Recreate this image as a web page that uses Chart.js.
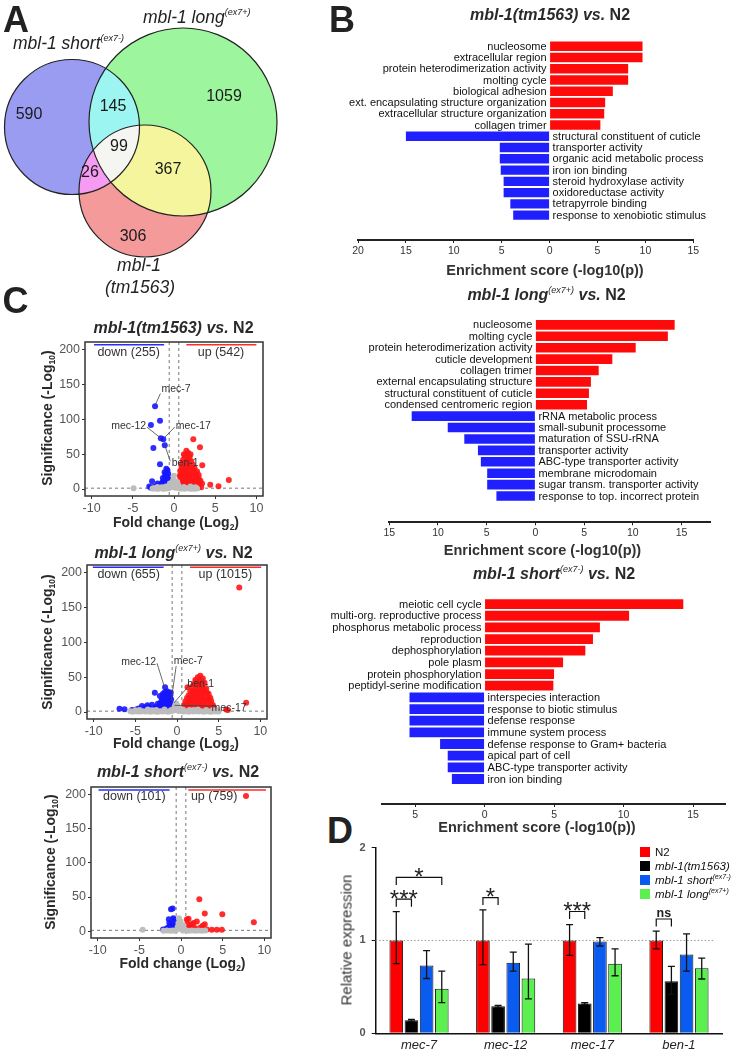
<!DOCTYPE html>
<html><head><meta charset="utf-8">
<script src="https://cdn.jsdelivr.net/npm/chart.js@4.4.0/dist/chart.umd.min.js"></script>
<style>
html,body{margin:0;padding:0;background:#fff;}
body{width:733px;height:1052px;position:relative;overflow:hidden;font-family:Arial,"Liberation Sans",Helvetica,sans-serif;color:#222;}
canvas.c{position:absolute;}
.t{position:absolute;white-space:nowrap;line-height:1;transform:translate(-50%,-50%);}
.tl{position:absolute;white-space:nowrap;line-height:1;transform:translate(0,-50%);}
.letter{font-weight:bold;font-size:36px;color:#222;}
.ttl{font-weight:bold;font-size:16px;color:#2a2a2a;}
.sp{font-size:9px;font-style:italic;font-weight:normal;position:relative;top:-7px;}
.axt{font-weight:bold;font-size:14.5px;color:#333;}
.vaxt{font-weight:bold;font-size:14px;color:#2a2a2a;}
.rot{transform:translate(-50%,-50%) rotate(-90deg);}
.sb{font-size:8.5px;position:relative;top:3px;}
.vn{font-style:italic;font-size:17.5px;color:#222;}
.vn .sp{font-size:9px;top:-8px;}
.lg{position:absolute;left:640px;font-size:11.5px;color:#111;white-space:nowrap;line-height:1;}
.lg span.sq{display:inline-block;width:10px;height:10px;vertical-align:-1px;margin-right:5px;}
.lg .sp{font-size:7px;top:-5px;}
</style></head><body>

<canvas id="venn" class="c" width="518" height="488" style="left:-94px;top:-94px"></canvas>
<div class="t letter" style="left:16px;top:20px">A</div>
<div class="t letter" style="left:342px;top:20px">B</div>
<div class="t letter" style="left:15.5px;top:301px">C</div>
<div class="t letter" style="left:340px;top:831px">D</div>

<div class="tl vn" style="left:13px;top:44px">mbl-1 short<span class="sp">(ex7-)</span></div>
<div class="tl vn" style="left:143px;top:17.5px">mbl-1 long<span class="sp">(ex7+)</span></div>
<div class="t vn" style="left:139px;top:266px">mbl-1</div>
<div class="t vn" style="left:140px;top:288px">(tm1563)</div>

<canvas id="b1" class="c" width="413" height="240" style="left:320px;top:20px"></canvas>
<canvas id="b2" class="c" width="413" height="242" style="left:320px;top:300px"></canvas>
<canvas id="b3" class="c" width="413" height="246" style="left:320px;top:578px"></canvas>
<div class="t ttl" style="left:550px;top:15px"><i>mbl-1(tm1563) vs.</i> N2</div>
<div class="t ttl" style="left:546.5px;top:295px"><i>mbl-1 long</i><span class="sp">(ex7+)</span><i> vs.</i> N2</div>
<div class="t ttl" style="left:554px;top:573.5px"><i>mbl-1 short</i><span class="sp">(ex7-)</span><i> vs.</i> N2</div>
<div class="t axt" style="left:545px;top:270px">Enrichment score (-log10(p))</div>
<div class="t axt" style="left:542.5px;top:550px">Enrichment score (-log10(p))</div>
<div class="t axt" style="left:537px;top:827px">Enrichment score (-log10(p))</div>

<canvas id="c1" class="c" width="265" height="185" style="left:20px;top:330px"></canvas>
<canvas id="c2" class="c" width="265" height="185" style="left:20px;top:553px"></canvas>
<canvas id="c3" class="c" width="265" height="183" style="left:20px;top:775px"></canvas>
<div class="t ttl" style="left:173.5px;top:328px"><i>mbl-1(tm1563) vs.</i> N2</div>
<div class="t ttl" style="left:173.5px;top:553px"><i>mbl-1 long</i><span class="sp">(ex7+)</span><i> vs.</i> N2</div>
<div class="t ttl" style="left:178px;top:771.5px"><i>mbl-1 short</i><span class="sp">(ex7-)</span><i> vs.</i> N2</div>
<div class="t vaxt" style="left:176px;top:522px">Fold change (Log<span class="sb">2</span>)</div>
<div class="t vaxt" style="left:176px;top:743px">Fold change (Log<span class="sb">2</span>)</div>
<div class="t vaxt" style="left:182.5px;top:963px">Fold change (Log<span class="sb">2</span>)</div>
<div class="t vaxt rot" style="left:47px;top:418px">Significance (-Log<span class="sb">10</span>)</div>
<div class="t vaxt rot" style="left:47px;top:642px">Significance (-Log<span class="sb">10</span>)</div>
<div class="t vaxt rot" style="left:50px;top:862px">Significance (-Log<span class="sb">10</span>)</div>

<canvas id="d" class="c" width="403" height="217" style="left:330px;top:835px"></canvas>
<div class="t rot" style="left:346px;top:940px;font-size:15px;color:#333">Relative expression</div>
<div id="dlegend"></div>

<script>
// ================= DATA =================
// Panel A – Venn
const VENN_SETS = ['mbl-1 short(ex7-)', 'mbl-1 long(ex7+)', 'mbl-1(tm1563)'];
const VENN_COUNTS = [590, 145, 1059, 99, 26, 367, 306];

// Panel B – GO enrichment
const B1_TERMS = ['nucleosome','extracellular region','protein heterodimerization activity','molting cycle','biological adhesion','ext. encapsulating structure organization','extracellular structure organization','collagen trimer','structural constituent of cuticle','transporter activity','organic acid metabolic process','iron ion binding','steroid hydroxylase activity','oxidoreductase activity','tetrapyrrole binding','response to xenobiotic stimulus'];
const B1_SCORES = [9.7, 9.7, 8.2, 8.2, 6.6, 5.8, 5.7, 5.3, -15.0, -5.2, -5.2, -5.1, -4.8, -4.8, -4.1, -3.8];
const B2_TERMS = ['nucleosome','molting cycle','protein heterodimerization activity','cuticle development','collagen trimer','external encapsulating structure','structural constituent of cuticle','condensed centromeric region','rRNA metabolic process','small-subunit processome','maturation of SSU-rRNA','transporter activity','ABC-type transporter activity','membrane microdomain','sugar transm. transporter activity','response to top. incorrect protein'];
const B2_SCORES = [14.3, 13.6, 10.3, 7.9, 6.5, 5.7, 5.5, 5.3, -12.7, -9.0, -7.3, -5.9, -5.6, -4.95, -4.95, -4.0];
const B3_TERMS = ['meiotic cell cycle','multi-org. reproductive process','phosphorus metabolic process','reproduction','dephosphorylation','pole plasm','protein phosphorylation','peptidyl-serine modification','interspecies interaction','response to biotic stimulus','defense response','immune system process','defense response to Gram+ bacteria','apical part of cell','ABC-type transporter activity','iron ion binding'];
const B3_SCORES = [14.3, 10.4, 8.3, 7.8, 7.25, 5.65, 5.0, 4.95, -5.4, -5.4, -5.4, -5.4, -3.2, -2.65, -2.65, -2.35];

// Panel C – volcano plots  [log2 fold change, -log10 p]
const C1_NS = [[-4.9,1],[-2.6,0.6],[-2.3,0.9],[-2.0,0.5],[-1.7,1.0],[-1.4,0.7],[-1.1,1.0],[-0.8,0.6],[-0.55,1.5],[-0.45,3.5],[-0.35,6],[-0.25,9],[-0.1,13],[0.0,19],[0.1,11],[0.2,7],[0.3,4],[0.45,2],[0.55,5],[-0.5,8],[0.4,10],[-0.15,3],[0.15,2],[0.7,0.6],[1.0,0.9],[1.3,0.5],[1.6,1.0],[1.9,0.7],[2.2,0.9],[2.5,0.5],[2.8,0.8],[-1.25,0.4],[-1.85,0.9],[0.85,1.1],[2.05,0.4],[-2.45,1.1],[-2.0,3],[-1.0,3.5],[1.2,3],[2.0,3.5],[2.6,2.5],[-1.5,2.5]];
const C1_DOWN = [[-2.3,118.7],[-1.7,98],[-2.8,91.8],[-1.6,72.7],[-1.3,71.5],[-1.12,63],[-2.5,59],[-1.7,35.4],[-2.66,11],[-0.93,29],[-0.8,27],[-1.0,22],[-0.7,22],[-1.1,18],[-0.75,16],[-0.9,13],[-1.2,13],[-1.4,10],[-0.7,10],[-1.0,8],[-1.6,7],[-1.3,5],[-0.8,5],[-1.9,5],[-2.2,4],[-2.5,3],[-2.8,2],[-1.1,3],[-1.5,2],[-2.0,1.8],[-0.65,2.5],[-0.95,1.6],[-1.75,2.6],[-2.35,1.6],[-1.25,9],[-0.85,19],[-1.05,14],[-3.0,3.5],[-0.75,7],[-1.45,6],[-2.0,8],[-1.15,24],[-0.85,10],[-1.7,3.5],[-2.6,1.5],[-0.7,14],[-1.35,16]];
const C1_UP = [[2.34,71.3],[3.15,60],[3.43,34],[4.4,6],[5.4,4],[6.65,13],[1.5,55],[1.7,52],[1.3,48],[1.9,46],[1.1,42],[1.6,44],[2.1,40],[1.4,38],[1.8,36],[0.9,33],[1.2,32],[2.3,35],[2.5,30],[2.0,30],[1.6,28],[0.75,26],[1.0,25],[2.8,25],[1.35,24],[2.2,23],[1.8,20],[0.7,19],[3.0,20],[2.6,18],[1.1,17],[2.4,14],[1.5,14],[0.9,12],[2.0,12],[3.2,12],[2.8,10],[1.2,9],[0.7,8],[1.7,7],[2.3,6],[3.0,5],[1.0,4],[2.6,3.5],[1.4,3],[0.65,2.5],[2.0,2.5],[3.3,2.5],[1.8,1.8],[2.9,1.7],[1.25,1.6],[0.8,1.5],[2.4,1.5],[2.2,8],[1.9,15],[1.3,20],[1.7,31],[2.7,14],[1.05,10],[0.85,20],[2.15,18],[1.55,22],[3.0,15],[2.5,22],[1.0,37],[1.2,50],[1.45,46],[2.0,50],[1.75,40],[1.25,36],[2.2,30],[1.5,33],[2.7,20],[2.9,8],[3.1,9],[1.9,24],[2.45,26],[1.05,29],[0.95,7],[1.6,10],[2.1,5],[2.55,11],[0.75,13],[1.35,15],[3.4,8],[1.15,22],[1.85,12],[2.35,3],[0.85,2.8],[1.7,4]];
const C1_COUNTS = [255, 542];
const C1_GENES = ['mec-7','mec-12','mec-17','ben-1'];

const C2_NS = [[-5.6,1],[-5.3,0.5],[-5.0,1.2],[-4.7,0.9],[-4.4,0.6],[-4.1,1.1],[-3.8,0.7],[-3.5,1.0],[-3.2,0.5],[-2.9,1.2],[-2.6,0.8],[-2.3,0.5],[-2.0,1.1],[-1.7,0.6],[-1.4,1.0],[-1.1,0.5],[-0.8,1.1],[-0.5,2],[-0.4,4],[-0.3,7],[-0.2,10],[-0.05,12],[0.1,8],[0.25,5],[0.4,3],[0.55,1.5],[0.8,0.7],[1.1,1.1],[1.4,0.5],[1.7,1.0],[2.0,0.6],[2.3,1.2],[2.6,0.7],[2.9,1.0],[3.2,0.5],[3.5,1.1],[3.8,0.8],[4.1,0.5],[4.4,1.0],[4.7,0.6],[5.0,0.9],[-0.15,3],[0.2,1.5],[-4.5,3],[-3.5,3.5],[-2.5,3],[-1.5,3.5],[-0.7,3],[0.7,3.5],[1.5,3],[2.5,3.5],[3.5,3],[4.3,3],[-5.0,2.5],[4.8,2.5],[-3.0,2.5],[2.0,3]];
const C2_DOWN = [[-1.43,35.7],[-2.66,27.7],[-6.9,4.8],[-6.3,3.9],[-5.4,2.9],[-5.2,2.2],[-4.2,8.6],[-3.55,9.6],[-3.0,10.4],[-3.8,7],[-4.6,5],[-2.05,23],[-2.3,12],[-1.3,25],[-1.0,28],[-0.8,24],[-1.6,22],[-1.1,20],[-0.7,18],[-1.4,17],[-1.9,15],[-0.9,14],[-1.2,12],[-0.7,10],[-1.7,10],[-2.2,8],[-1.0,8],[-1.4,6],[-0.8,5],[-2.5,5],[-1.9,4],[-1.2,3],[-3.2,4],[-0.65,3],[-1.6,2],[-2.8,2.5],[-2.1,1.8],[-0.9,2],[-3.6,2],[-4.0,2.5],[-1.5,28],[-0.9,20],[-1.8,19],[-2.6,7],[-4.9,3.5],[-1.2,30],[-0.75,28],[-1.7,26],[-0.95,24],[-1.35,21],[-2.0,12],[-1.5,9],[-0.8,12],[-1.1,5],[-2.3,3],[-1.6,14],[-3.4,7],[-4.4,3]];
const C2_UP = [[7.47,178.6],[8.3,13.3],[5.9,3.8],[6.1,3],[1.26,35.7],[4.0,20.5],[2.8,52],[2.5,50],[3.1,48],[2.2,46],[2.7,45],[3.3,42],[2.0,40],[2.4,40],[3.0,38],[1.8,36],[2.9,33],[3.5,34],[2.2,32],[1.6,30],[2.6,28],[3.2,28],[3.8,26],[1.4,24],[2.0,24],[2.9,22],[3.5,22],[1.2,20],[2.4,20],[1.8,18],[3.1,17],[4.1,16],[1.0,15],[2.1,14],[2.7,14],[3.6,14],[1.4,12],[3.3,10],[4.3,10],[1.9,9],[2.5,8],[1.1,7],[3.0,6],[3.9,6],[1.6,5],[2.2,4],[4.5,4],[0.8,4],[2.8,3],[3.5,3],[1.3,2.5],[2.0,2],[4.0,2],[0.7,2.5],[3.2,1.8],[2.6,1.6],[1.7,1.6],[2.4,30],[3.4,18],[1.5,16],[2.8,18],[0.9,10],[2.6,38],[2.3,44],[3.0,44],[1.9,30],[3.3,32],[2.7,35],[3.6,28],[1.7,22],[2.2,26],[3.0,26],[4.0,12],[2.5,16],[1.2,12],[1.5,9],[3.6,8],[2.0,7],[2.9,10],[3.4,5],[4.2,6],[1.0,10],[1.8,13],[2.3,11],[3.8,18],[2.6,22],[2.0,18],[4.4,7],[0.9,6],[1.4,3.5]];
const C2_COUNTS = [655, 1015];
const C2_GENES = ['mec-12','mec-7','ben-1','mec-17'];

const C3_NS = [[-4.6,2],[-2.1,0.6],[-1.7,1],[-1.3,0.5],[-1.0,1.1],[-0.7,0.7],[-0.5,2],[-0.4,6],[-0.3,12],[-0.25,19],[-0.15,9],[0,5],[0.15,3],[0.3,8],[0.45,2],[0.6,1],[0.9,0.6],[1.3,1],[1.7,0.5],[2.1,0.9],[2.5,0.6],[2.9,0.8],[-0.05,14],[0.2,1]];
const C3_DOWN = [[-1.2,32],[-1.0,33],[-1.46,17.6],[-0.93,19],[-0.8,17],[-2.15,2.4],[-1.6,5],[-1.3,8],[-1.1,11],[-0.9,6],[-0.7,10],[-1.8,3],[-1.0,3],[-1.4,12],[-0.75,4],[-1.2,2]];
const C3_UP = [[7.8,198],[8.74,12.9],[4.96,24.8],[2.2,46.7],[2.85,26],[2.85,10],[3.1,2.5],[3.7,2],[4.3,2],[4.9,2],[0.7,17],[0.9,18],[1.5,12],[1.9,14],[1.2,10],[2.3,5],[1.0,6],[0.8,4],[2.6,8],[1.6,5],[2.0,2.5],[1.3,3],[0.75,10],[2.5,3]];
const C3_COUNTS = [101, 759];

const FC_CUT = 0.585;   // |log2 FC| threshold
const P_CUT = 1.3;      // -log10(0.05)

// Panel D – qPCR
const D_GENES = ['mec-7','mec-12','mec-17','ben-1'];
const D_SERIES = ['N2','mbl-1(tm1563)','mbl-1 short','mbl-1 long'];
const D_SERIES_SUP = ['','','(ex7-)','(ex7+)'];
const D_N2 = [1, 1, 1, 1];
const D_TM = [0.14, 0.29, 0.32, 0.56];
const D_SHORT = [0.73, 0.76, 0.99, 0.85];
const D_LONG = [0.48, 0.59, 0.75, 0.70];
const D_N2_ERR = [[0.75,1.31],[0.74,1.33],[0.84,1.17],[0.91,1.10]];
const D_TM_ERR = [[0.13,0.15],[0.28,0.30],[0.31,0.33],[0.42,0.72]];
const D_SHORT_ERR = [[0.59,0.89],[0.67,0.875],[0.94,1.03],[0.67,1.07]];
const D_LONG_ERR = [[0.33,0.67],[0.37,0.96],[0.62,0.91],[0.585,0.81]];
const D_SIG_LABELS = ['***','*','*','***','ns'];
const D_SIG_Y = [1.444, 1.679, 1.462, 1.312, 1.231];

// ================= LAYOUT / STYLE =================
const FONT = 'Arial, "Liberation Sans", Helvetica, sans-serif';
Chart.defaults.font.family = FONT;
Chart.defaults.animation = false;
const VENN_COLORS = ['#9a9cf2', '#9df59d', '#f59a9a'];
const VENN_CIRCLES = [{x:72,y:127,r:67.5},{x:183,y:122,r:94},{x:145,y:191,r:66}];
const VENN_COUNT_POS = [[29,115],[113,107],[224,97],[119,147],[90,173],[168,170],[133,237]];
const D_COLORS = ['#ff0000','#000000','#0a5cf0','#5bef4f'];
const D_SIG_PAIRS = [[0,0,1],[0,0,3],[1,0,1],[2,0,1],[3,0,1]]; // [gene, series a, series b]

// ---------- Venn ----------
// The bubble controller reserves its largest radius (94px) around the plot area,
// so the canvas is enlarged by that margin and shifted; the plot area maps 0..330 x 0..300 page px.
const vennPlugin = {
  id: 'venn',
  beforeDatasetsDraw(chart) { chart.ctx.save(); chart.ctx.globalCompositeOperation = 'lighten'; },
  afterDatasetsDraw(chart) {
    const ctx = chart.ctx; ctx.restore(); ctx.save();
    ctx.strokeStyle = '#222'; ctx.lineWidth = 1.2;
    chart.data.datasets.forEach((d, i) => {
      chart.getDatasetMeta(i).data.forEach(el => {
        ctx.beginPath(); ctx.arc(el.x, el.y, el.options.radius, 0, Math.PI * 2); ctx.stroke();
      });
    });
    ctx.fillStyle = '#1a1a1a'; ctx.font = '16px ' + FONT; ctx.textAlign = 'center'; ctx.textBaseline = 'middle';
    VENN_COUNTS.forEach((n, i) => {
      ctx.fillText(String(n), chart.scales.x.getPixelForValue(VENN_COUNT_POS[i][0]), chart.scales.y.getPixelForValue(VENN_COUNT_POS[i][1]));
    });
    ctx.restore();
  }
};
new Chart(document.getElementById('venn'), {
  type: 'bubble',
  data: { datasets: VENN_SETS.map((s, i) => ({ label: s, data: [{ x: VENN_CIRCLES[i].x, y: VENN_CIRCLES[i].y, r: VENN_CIRCLES[i].r }], backgroundColor: VENN_COLORS[i], borderWidth: 0, clip: false })) },
  options: { responsive: false, devicePixelRatio: 1, events: [], layout: { padding: 0 },
    scales: { x: { type: 'linear', min: 0, max: 330, display: false }, y: { type: 'linear', min: 0, max: 300, reverse: true, display: false } },
    plugins: { legend: { display: false }, tooltip: { enabled: false } } },
  plugins: [vennPlugin]
});

// ---------- Enrichment bars ----------
function termLabels(terms, scores) {
  return { id: 'terms', afterDatasetsDraw(chart) {
    const ctx = chart.ctx, x = chart.scales.x, y = chart.scales.y;
    const x0 = x.getPixelForValue(0);
    ctx.save(); ctx.fillStyle = '#111'; ctx.font = '11px ' + FONT; ctx.textBaseline = 'middle';
    terms.forEach((t, i) => {
      const py = y.getPixelForValue(i) + 0.5;
      if (scores[i] > 0) { ctx.textAlign = 'right'; ctx.fillText(t, x0 - 3, py); }
      else { ctx.textAlign = 'left'; ctx.fillText(t, x0 + 3, py); }
    });
    ctx.restore();
  } };
}
function enrich(id, terms, scores, cfg) {
  new Chart(document.getElementById(id), {
    type: 'bar',
    data: { datasets: [{ data: scores.map((v, i) => ({ x: v, y: i })), backgroundColor: scores.map(v => v > 0 ? '#ff0a0a' : '#2020ff'), borderWidth: 0, categoryPercentage: 1, barPercentage: 0.84 }] },
    options: { indexAxis: 'y', responsive: false, devicePixelRatio: 1, events: [],
      layout: { padding: { left: cfg.pl, right: cfg.pr, top: cfg.pt, bottom: 0 } },
      scales: {
        y: { type: 'linear', min: -0.6, max: cfg.ymax, reverse: true, display: false },
        x: { type: 'linear', min: cfg.min, max: cfg.max,
          afterBuildTicks: s => { s.ticks = s.ticks.filter(t => Math.abs(t.value % 5) < 1e-9); },
          afterFit: s => { s.height = cfg.xh; },
          ticks: { stepSize: 5, includeBounds: false, callback: v => String(Math.abs(v)), color: '#333', font: { size: 10.5 }, padding: 2, maxRotation: 0, autoSkip: false },
          grid: { drawOnChartArea: false, drawTicks: true, tickLength: 3, color: '#222' },
          border: { display: true, color: '#222', width: 2 } } },
      plugins: { legend: { display: false }, tooltip: { enabled: false } } },
    plugins: [termLabels(terms, scores)]
  });
}
enrich('b1', B1_TERMS, B1_SCORES, { min: -20, max: 15, pl: 38, pr: 39.7, pt: 7.7, ymax: 16.16, xh: 20 });
enrich('b2', B2_TERMS, B2_SCORES, { min: -15, max: 18, pl: 69.3, pr: 22.3, pt: 6, ymax: 16.25, xh: 19.7 });
enrich('b3', B3_TERMS, B3_SCORES, { min: -7.4, max: 17.3, pl: 61.7, pr: 8, pt: 6.9, ymax: 16.1, xh: 20 });

// ---------- Volcano ----------
const GENE_ANN = {
  c1: [{ at: [0.25, 143], from: [-1.65, 137], to: [-2.3, 120] },
       { at: [-5.5, 91], from: [-3.3, 89], to: [-1.6, 73] },
       { at: [2.35, 91], from: [0.1, 89], to: [-1.3, 72] },
       { at: [1.35, 37], from: [-0.45, 40], to: [-1.12, 63] }],
  c2: [{ at: [-4.6, 72], from: [-2.4, 70], to: [-1.43, 33] },
       { at: [1.35, 73], from: [-0.1, 66], to: [-0.7, 16] },
       { at: [2.85, 39.6], from: [1.3, 36], to: [-0.37, 13] },
       { at: [6.25, 5.3], from: [4.2, 8.6], to: [-0.3, 9.6] }]
};
function volcanoDeco(cfg) {
  return { id: 'vdeco',
    beforeDatasetsDraw(chart) {
      const { ctx, chartArea: a } = chart, x = chart.scales.x, y = chart.scales.y;
      ctx.save(); ctx.strokeStyle = '#555'; ctx.lineWidth = 0.8; ctx.setLineDash([3, 3]);
      [-FC_CUT, FC_CUT].forEach(v => { const px = x.getPixelForValue(v); ctx.beginPath(); ctx.moveTo(px, a.top); ctx.lineTo(px, a.bottom); ctx.stroke(); });
      const py = y.getPixelForValue(P_CUT); ctx.beginPath(); ctx.moveTo(a.left, py); ctx.lineTo(a.right, py); ctx.stroke();
      ctx.restore();
    },
    afterDatasetsDraw(chart) {
      const { ctx, chartArea: a } = chart, x = chart.scales.x, y = chart.scales.y;
      const X = v => x.getPixelForValue(v), Y = v => y.getPixelForValue(v);
      ctx.save();
      ctx.lineWidth = 1.6;
      ctx.strokeStyle = '#2b2bff'; ctx.beginPath(); ctx.moveTo(X(cfg.h.down[0]), Y(cfg.h.ly)); ctx.lineTo(X(cfg.h.down[1]), Y(cfg.h.ly)); ctx.stroke();
      ctx.strokeStyle = '#ff2b2b'; ctx.beginPath(); ctx.moveTo(X(cfg.h.up[0]), Y(cfg.h.ly)); ctx.lineTo(X(cfg.h.up[1]), Y(cfg.h.ly)); ctx.stroke();
      ctx.fillStyle = '#333'; ctx.font = '12.5px ' + FONT; ctx.textAlign = 'center'; ctx.textBaseline = 'middle';
      ctx.fillText('down (' + cfg.counts[0] + ')', X(cfg.h.dx), Y(cfg.h.ty));
      ctx.fillText('up (' + cfg.counts[1] + ')', X(cfg.h.ux), Y(cfg.h.ty));
      if (cfg.genes) {
        ctx.font = '10.5px ' + FONT; ctx.strokeStyle = '#444'; ctx.lineWidth = 0.8;
        cfg.genes.forEach((g, i) => {
          const an = cfg.ann[i];
          ctx.beginPath(); ctx.moveTo(X(an.from[0]), Y(an.from[1])); ctx.lineTo(X(an.to[0]), Y(an.to[1])); ctx.stroke();
          ctx.fillStyle = '#333'; ctx.fillText(g, X(an.at[0]), Y(an.at[1]));
        });
      }
      ctx.strokeStyle = '#333'; ctx.lineWidth = 1.5;
      ctx.strokeRect(a.left, a.top, a.right - a.left, a.bottom - a.top);
      ctx.restore();
    } };
}
function volcano(id, cfg) {
  const ds = (arr, color) => ({ data: arr.map(p => ({ x: p[0], y: p[1] })), backgroundColor: color, pointBackgroundColor: color, pointBorderWidth: 0, borderWidth: 0, pointRadius: 3, pointHoverRadius: 3 });
  new Chart(document.getElementById(id), {
    type: 'scatter',
    data: { datasets: [ds(cfg.ns, '#bdbdbd'), ds(cfg.down, 'rgba(22,22,255,0.9)'), ds(cfg.up, 'rgba(255,22,22,0.9)')] },
    options: { responsive: false, devicePixelRatio: 1, events: [],
      layout: { padding: { top: cfg.pt, right: cfg.pr, left: 0, bottom: 0 } },
      scales: {
        x: { type: 'linear', min: -10.8, max: 10.8,
          afterBuildTicks: s => { s.ticks = s.ticks.filter(t => Math.abs(t.value % 5) < 1e-9); },
          afterFit: s => { s.height = cfg.xh; },
          ticks: { stepSize: 5, includeBounds: false, color: '#555', font: { size: 12.5 }, padding: 2, maxRotation: 0, autoSkip: false },
          grid: { drawOnChartArea: false, tickLength: 3, color: '#333' }, border: { display: false } },
        y: { type: 'linear', min: -10, max: 211,
          afterBuildTicks: s => { s.ticks = s.ticks.filter(t => Math.abs(t.value % 50) < 1e-9); },
          afterFit: s => { s.width = cfg.yw; },
          ticks: { stepSize: 50, includeBounds: false, color: '#555', font: { size: 12.5 }, padding: 2, autoSkip: false },
          grid: { drawOnChartArea: false, tickLength: 3, color: '#333' }, border: { display: false } } },
      plugins: { legend: { display: false }, tooltip: { enabled: false } } },
    plugins: [volcanoDeco(cfg)]
  });
}
volcano('c1', { ns: C1_NS, down: C1_DOWN, up: C1_UP, counts: C1_COUNTS, genes: C1_GENES, ann: GENE_ANN.c1,
  pt: 12, pr: 22, xh: 19, yw: 65, h: { down: [-9.7, -1.2], up: [1.5, 10.0], ly: 207, ty: 196, dx: -5.5, ux: 5.7 } });
volcano('c2', { ns: C2_NS, down: C2_DOWN, up: C2_UP, counts: C2_COUNTS, genes: C2_GENES, ann: GENE_ANN.c2,
  pt: 12, pr: 18, xh: 19, yw: 67, h: { down: [-10.1, -1.6], up: [1.55, 10.1], ly: 207.7, ty: 197.7, dx: -5.8, ux: 5.8 } });
volcano('c3', { ns: C3_NS, down: C3_DOWN, up: C3_UP, counts: C3_COUNTS, genes: null,
  pt: 12, pr: 14, xh: 20, yw: 71, h: { down: [-9.9, -1.37], up: [0.87, 10.2], ly: 206.7, ty: 197.7, dx: -5.6, ux: 3.98 } });

// ---------- Panel D ----------
const D_VALUES = [D_N2, D_TM, D_SHORT, D_LONG];
const D_ERRS = [D_N2_ERR, D_TM_ERR, D_SHORT_ERR, D_LONG_ERR];
const dPlugin = { id: 'dextra',
  beforeDatasetsDraw(chart) {
    const { ctx, chartArea: a } = chart, y = chart.scales.y;
    ctx.save(); ctx.strokeStyle = '#999'; ctx.lineWidth = 1; ctx.setLineDash([1.5, 2]);
    const py = y.getPixelForValue(1); ctx.beginPath(); ctx.moveTo(a.left, py); ctx.lineTo(a.right - 7, py); ctx.stroke();
    ctx.restore();
  },
  afterDatasetsDraw(chart) {
    const ctx = chart.ctx, y = chart.scales.y;
    ctx.save(); ctx.strokeStyle = '#111'; ctx.lineWidth = 1.3;
    D_ERRS.forEach((errs, s) => {
      chart.getDatasetMeta(s).data.forEach((el, j) => {
        const lo = y.getPixelForValue(errs[j][0]), hi = y.getPixelForValue(errs[j][1]);
        ctx.beginPath(); ctx.moveTo(el.x, lo); ctx.lineTo(el.x, hi);
        ctx.moveTo(el.x - 3.5, lo); ctx.lineTo(el.x + 3.5, lo);
        ctx.moveTo(el.x - 3.5, hi); ctx.lineTo(el.x + 3.5, hi); ctx.stroke();
      });
    });
    ctx.lineWidth = 1.2; ctx.textAlign = 'center'; ctx.fillStyle = '#222';
    D_SIG_PAIRS.forEach((p, k) => {
      const x1 = chart.getDatasetMeta(p[1]).data[p[0]].x, x2 = chart.getDatasetMeta(p[2]).data[p[0]].x;
      const py = y.getPixelForValue(D_SIG_Y[k]);
      ctx.beginPath(); ctx.moveTo(x1, py + 7.5); ctx.lineTo(x1, py); ctx.lineTo(x2, py); ctx.lineTo(x2, py + 7.5); ctx.stroke();
      const lab = D_SIG_LABELS[k];
      if (lab === 'ns') { ctx.font = 'bold 12.5px ' + FONT; ctx.textBaseline = 'alphabetic'; ctx.fillText(lab, (x1 + x2) / 2, py - 2.5); }
      else { ctx.font = '24px ' + FONT; ctx.textBaseline = 'alphabetic'; ctx.fillText(lab, (x1 + x2) / 2, py + 7.5); }
    });
    ctx.restore();
  } };
new Chart(document.getElementById('d'), {
  type: 'bar',
  data: { labels: D_GENES, datasets: D_SERIES.map((s, i) => ({ label: s + D_SERIES_SUP[i], data: D_VALUES[i], backgroundColor: D_COLORS[i], borderColor: '#111', borderWidth: 1, categoryPercentage: 0.7, barPercentage: 0.9 })) },
  options: { responsive: false, devicePixelRatio: 1, events: [],
    layout: { padding: { top: 7.7, right: 10.7, left: 0, bottom: 0 } },
    scales: {
      x: { grid: { display: false, drawTicks: false }, border: { display: true, color: '#111', width: 1.5 },
        ticks: { color: '#222', font: { size: 13, style: 'italic' }, padding: 4 }, afterFit: s => { s.height = 18.7; } },
      y: { min: 0, max: 2, ticks: { stepSize: 1, color: '#555', font: { size: 11, weight: 'bold' }, padding: 6 },
        grid: { drawOnChartArea: false, tickLength: 4, color: '#111' }, border: { color: '#111', width: 1.5 },
        afterFit: s => { s.width = 45.7; } } },
    plugins: { legend: { display: false }, tooltip: { enabled: false } } },
  plugins: [dPlugin]
});
(function () {
  const rows = [852.5, 866.8, 881, 895.3];
  document.getElementById('dlegend').innerHTML = D_SERIES.map((s, i) =>
    '<div class="lg" style="top:' + (rows[i] - 6) + 'px"><span class="sq" style="background:' + D_COLORS[i] + '"></span>' +
    (i === 0 ? s : '<i>' + s + '</i>') + (D_SERIES_SUP[i] ? '<span class="sp">' + D_SERIES_SUP[i] + '</span>' : '') + '</div>').join('');
})();
</script>
</body></html>
